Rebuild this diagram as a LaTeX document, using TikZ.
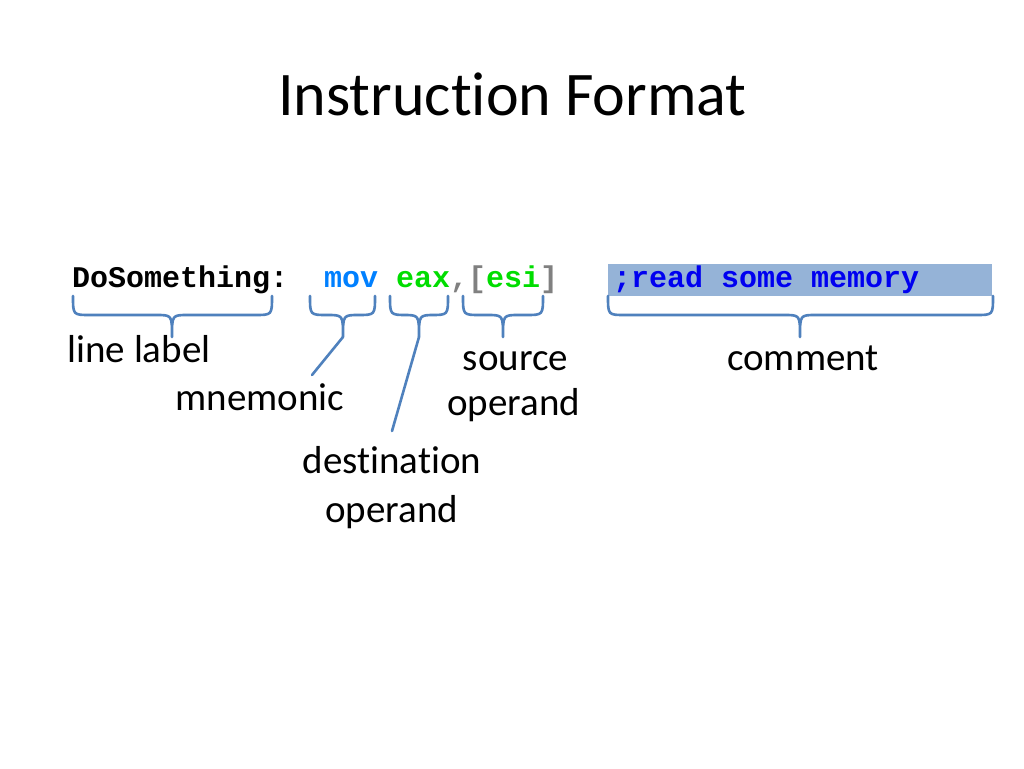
\documentclass[tikz,border=0pt]{standalone}
\usepackage{fontspec}
\setmainfont{Carlito}[Ligatures={NoCommon}]
\newfontfamily\codefont{Liberation Mono}
\definecolor{bracecol}{HTML}{4F81BD}
\definecolor{movcol}{HTML}{0080FF}
\definecolor{regcol}{HTML}{00DD00}
\definecolor{brkcol}{HTML}{808080}
\definecolor{hlcol}{HTML}{95B3D7}
\definecolor{cmtcol}{HTML}{0000F0}
\tikzset{
  codetxt/.style={anchor=base west,inner sep=0pt,font=\codefont\bfseries\fontsize{30}{34}\selectfont},
  lbl/.style={anchor=base,inner sep=0pt,font=\fontsize{39}{46}\selectfont},
  bracestyle/.style={draw=bracecol,line width=2.6pt,line cap=round,line join=round},
  leader/.style={draw=bracecol,line width=2.6pt,line cap=round}
}
\newcommand\mybrace[4]{%
  \draw[bracestyle] (#2,296) .. controls (#2,315) .. (#2+17,315) -- (#3-16,315)
    .. controls (#3,315) .. (#3,337) .. controls (#3,315) .. (#3+16,315)
    -- (#4-17,315) .. controls (#4,315) .. (#4,296);
  \coordinate (#1) at (#3,337);}
\begin{document}
\begin{tikzpicture}[x=1pt,y=-1pt]
\useasboundingbox (0,0) rectangle (1024,768);
\fill[white] (0,0) rectangle (1024,768);
% title
\node[anchor=base,inner sep=0pt,font=\fontsize{62}{70}\selectfont] (title) at (512.5,115) {Instruction Format};
% code line
\fill[hlcol] (608,264) rectangle (992,296);
\node[codetxt] (lab) at (72,287) {DoSomething:};
\node[codetxt,text=movcol] (mov) at (324,287) {mov};
\node[codetxt,text=regcol] (eax) at (396,287) {eax};
\node[codetxt,text=brkcol] (comma) at (450,287) {,};
\node[codetxt] (esi) at (468,287) {\textcolor{brkcol}{[}\textcolor{regcol}{esi}\textcolor{brkcol}{]}};
\node[codetxt,text=cmtcol] (cmt) at (613,287) {;read some memory};
% braces
\mybrace{labtip}{73}{172}{272}
\mybrace{movtip}{310}{343}{375}
\mybrace{eaxtip}{390}{419}{448}
\mybrace{esitip}{463}{503}{543}
\mybrace{cmttip}{608}{800}{993}
% labels
\node[lbl] (linelabel) at (139,362) {line label};
\node[lbl] (mnemonic) at (260,410) {mnemonic};
\node[lbl] (source1) at (515.5,370) {source};
\node[lbl] (source2) at (513.5,415) {operand};
\node[lbl] (comment) at (803,370) {comment};
\node[lbl] (dest1) at (392,473) {destination};
\node[lbl] (dest2) at (391.5,522) {operand};
% leader lines
\coordinate (movend) at (312,375);
\coordinate (eaxend) at (392,431);
\draw[leader] (movtip) -- (movend);
\draw[leader] (eaxtip) -- (eaxend);
\end{tikzpicture}
\end{document}
